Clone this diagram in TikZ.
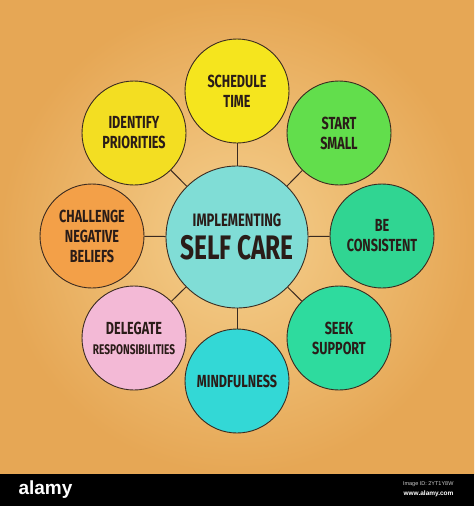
\documentclass[tikz,border=0pt]{standalone}
\usepackage{fontspec}
\newfontfamily\hand{Fira Sans}[FakeStretch=0.72]
\newfontfamily\barfont{Liberation Sans}
\definecolor{bgin}{HTML}{F5D08E}
\definecolor{bgout}{HTML}{E6A755}
\definecolor{ink}{HTML}{2A1C18}
\definecolor{edge}{HTML}{3A2A20}
\definecolor{cCenter}{HTML}{80DDD6}
\definecolor{cSched}{HTML}{F5E51E}
\definecolor{cIdent}{HTML}{F3DE22}
\definecolor{cStart}{HTML}{62DE4C}
\definecolor{cBe}{HTML}{30D592}
\definecolor{cSeek}{HTML}{2EDB9E}
\definecolor{cMind}{HTML}{33D8D6}
\definecolor{cDeleg}{HTML}{F3B9D6}
\definecolor{cChall}{HTML}{F3A048}
\tikzset{
  bub/.style={circle, draw=edge, line width=0.9pt, minimum size=104pt, inner sep=0pt,
    align=center, text=ink, font=\hand\bfseries\fontsize{17.5}{20}\selectfont},
  hub/.style={circle, draw=edge, line width=0.9pt, minimum size=142pt, inner sep=0pt,
    align=center, text=ink, fill=cCenter},
  conn/.style={draw=edge, line width=1pt},
}
\begin{document}
\begin{tikzpicture}[x=1pt,y=-1pt]
\useasboundingbox (0,0) rectangle (474,506);
\shade[inner color=bgin, outer color=bgout] (0,0) rectangle (474,474);
\fill[black] (0,474) rectangle (474,506);

\node[hub] (hub) at (237,237) {{\hand\bfseries\fontsize{18}{20}\selectfont IMPLEMENTING}\\[7pt]{\hand\bfseries\fontsize{34}{34}\selectfont SELF CARE}};

\node[bub, fill=cSched] (sched) at (237,91) {SCHEDULE\\TIME};
\node[bub, fill=cStart] (start) at (339,133) {START\\SMALL};
\node[bub, fill=cBe] (be) at (382,236) {BE\\CONSISTENT};
\node[bub, fill=cSeek] (seek) at (339,338) {SEEK\\SUPPORT};
\node[bub, fill=cMind] (mind) at (237,381) {MINDFULNESS};
\node[bub, fill=cDeleg] (deleg) at (134,338) {DELEGATE\\{\fontsize{14}{16}\selectfont RESPONSIBILITIES}};
\node[bub, fill=cChall] (chall) at (92,236) {CHALLENGE\\NEGATIVE\\BELIEFS};
\node[bub, fill=cIdent] (ident) at (134,133) {IDENTIFY\\PRIORITIES};

\foreach \n in {sched,start,be,seek,mind,deleg,chall,ident}
  \draw[conn] (hub) -- (\n);

\node[text=white, font=\barfont\bfseries\fontsize{19}{20}\selectfont, anchor=west] (logo) at (15,490) {alamy};
\node[text=white!80!black, font=\barfont\fontsize{5.5}{6}\selectfont, anchor=east] (imgid) at (457,484) {Image ID: 2YT1Y8W};
\node[text=white, font=\barfont\bfseries\fontsize{6.5}{7}\selectfont, anchor=east] (url) at (457,494) {www.alamy.com};
\end{tikzpicture}
\end{document}
